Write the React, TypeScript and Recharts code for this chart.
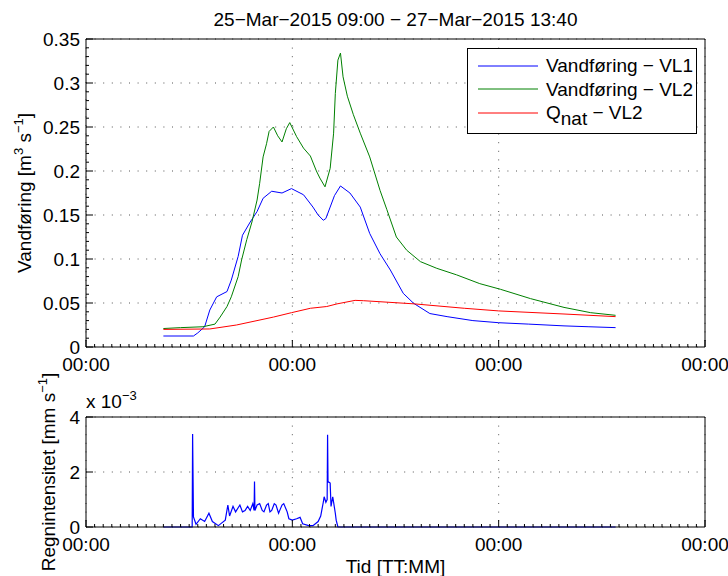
import React from 'react';
import { LineChart, Line, XAxis, YAxis, CartesianGrid, Legend, Label } from 'recharts';

const FONT = '"Liberation Sans", Arial, Helvetica, sans-serif';

// tid i timer fra 25-Mar-2015 00:00
const xTicks = [0, 24, 48, 72];
const xTickLabels = ['00:00', '00:00', '00:00', '00:00'];
const qTicks = [0, 0.05, 0.1, 0.15, 0.2, 0.25, 0.3, 0.35];
const rainTicks = [0, 2, 4];

const vl1Tid = [9.0, 12.5, 13.0, 13.8, 14.4, 15.2, 16.4, 16.9, 17.7, 18.2, 19.1, 19.9, 20.6, 21.6, 22.8, 23.9, 25.3, 26.4, 27.0, 27.6, 27.9, 28.4, 28.9, 29.6, 30.7, 31.9, 33.0, 34.2, 35.4, 36.9, 38.1, 40.0, 42.0, 45.0, 48.0, 51.5, 55.6, 58.5, 61.6];
const vl1Q = [0.0125, 0.0125, 0.016, 0.023, 0.042, 0.057, 0.063, 0.076, 0.103, 0.127, 0.142, 0.154, 0.169, 0.177, 0.175, 0.18, 0.173, 0.159, 0.15, 0.144, 0.146, 0.159, 0.172, 0.183, 0.175, 0.159, 0.129, 0.106, 0.0875, 0.061, 0.0497, 0.038, 0.0345, 0.03, 0.0276, 0.026, 0.024, 0.023, 0.022];

const vl2Tid = [9.0, 11.0, 13.6, 15.0, 15.6, 16.4, 16.9, 17.7, 18.1, 18.7, 19.3, 19.9, 20.2, 20.6, 21.0, 21.3, 21.8, 22.3, 22.8, 23.3, 23.7, 24.5, 25.3, 26.1, 26.8, 27.2, 27.8, 28.4, 28.8, 29.0, 29.3, 29.6, 29.9, 30.4, 31.1, 31.9, 33.0, 34.2, 35.0, 36.1, 37.3, 38.9, 40.8, 43.1, 45.8, 48.2, 51.7, 55.6, 58.7, 61.6];
const vl2Q = [0.021, 0.022, 0.023, 0.026, 0.034, 0.046, 0.057, 0.08, 0.099, 0.122, 0.142, 0.167, 0.186, 0.216, 0.231, 0.245, 0.25, 0.24, 0.233, 0.248, 0.255, 0.239, 0.226, 0.217, 0.2, 0.192, 0.182, 0.203, 0.243, 0.288, 0.326, 0.334, 0.307, 0.285, 0.264, 0.243, 0.216, 0.178, 0.156, 0.125, 0.11, 0.097, 0.0894, 0.082, 0.072, 0.0656, 0.055, 0.045, 0.039, 0.036];

const qnatTid = [9.0, 14.4, 17.5, 21.8, 23.9, 26.1, 28.0, 29.2, 31.3, 32.3, 38.2, 44.0, 48.0, 55.6, 61.6];
const qnatQ = [0.02, 0.0205, 0.025, 0.034, 0.039, 0.044, 0.046, 0.049, 0.053, 0.0526, 0.049, 0.044, 0.041, 0.0375, 0.0345];

// regnintensitet i 10^-3 mm/s
const regnTid = [9.0, 12.35, 12.4, 12.5, 12.8, 13.3, 13.8, 14.3, 14.7, 15.4, 15.8, 16.2, 16.5, 16.7, 17.1, 17.4, 17.7, 17.9, 18.2, 18.5, 18.8, 19.1, 19.4, 19.55, 19.6, 19.65, 19.9, 20.2, 20.5, 20.7, 21.0, 21.2, 21.4, 21.6, 21.9, 22.1, 22.4, 22.6, 22.8, 23.0, 23.4, 23.6, 24.0, 24.5, 24.9, 25.2, 25.9, 26.4, 27.0, 27.3, 27.6, 27.7, 27.9, 28.05, 28.1, 28.15, 28.4, 28.5, 28.7, 29.0, 29.1, 29.3, 61.6];
const regnI = [0, 0, 3.38, 0.37, 0.1, 0.3, 0.2, 0.5, 0.2, 0.05, 0.15, 0.25, 0.8, 0.4, 0.75, 0.55, 0.7, 0.8, 0.55, 0.6, 0.75, 0.6, 0.85, 0.6, 1.65, 0.6, 0.8, 0.85, 0.6, 0.55, 0.8, 0.85, 0.55, 0.6, 0.85, 0.8, 0.5, 0.65, 0.8, 0.85, 0.55, 0.3, 0.25, 0.3, 0.35, 0.12, 0.05, 0.05, 0.2, 0.4, 0.9, 1.1, 0.9, 1.0, 3.35, 1.65, 1.6, 0.75, 1.1, 0.5, 0.25, 0, 0];

const vl1Data = vl1Tid.map((t, i) => ({ t, q: vl1Q[i] }));
const vl2Data = vl2Tid.map((t, i) => ({ t, q: vl2Q[i] }));
const qnatData = qnatTid.map((t, i) => ({ t, q: qnatQ[i] }));
const regnData = regnTid.map((t, i) => ({ t, r: regnI[i] }));

// små tick-merker: hver time på x, hver 0.01 på y (øvre panel)
const hourTicks = Array.from({ length: 73 }, (_, i) => i);
const qMinorTicks = Array.from({ length: 36 }, (_, i) => i / 100);

const black = { stroke: '#000', strokeWidth: 1 };
const isIn = (v: number, list: number[]) => list.some((m) => Math.abs(m - v) < 1e-9);
const xLabel = (v: number) => xTickLabels[xTicks.findIndex((m) => Math.abs(m - v) < 1e-9)] ?? '';

// MATLAB-stil: tick-merker peker innover, store og små
const tickRenderer = (side: string, majors: number[], fmt: ((v: number) => string) | null) => (props: any) => {
  const { x, y, payload } = props;
  const v = payload.value;
  const major = isIn(v, majors);
  const len = major ? 7 : 3;
  let line;
  let label = null;
  if (side === 'bottom') {
    line = <line x1={x} x2={x} y1={y} y2={y - len} stroke="#000" />;
    if (major && fmt) label = <text x={x} y={y + 23.5} textAnchor="middle" fontFamily={FONT} fontSize={19} fill="#000">{fmt(v)}</text>;
  } else if (side === 'top') {
    line = <line x1={x} x2={x} y1={y} y2={y + len} stroke="#000" />;
  } else if (side === 'left') {
    line = <line x1={x} x2={x + len} y1={y} y2={y} stroke="#000" />;
    if (major && fmt) label = <text x={x - 6} y={y} dy="0.35em" textAnchor="end" fontFamily={FONT} fontSize={19} fill="#000">{fmt(v)}</text>;
  } else {
    line = <line x1={x} x2={x - len} y1={y} y2={y} stroke="#000" />;
  }
  return <g>{line}{label}</g>;
};

const legendItems = [
  { color: '#0000ff', label: <>Vandføring − VL1</> },
  { color: '#008000', label: <>Vandføring − VL2</> },
  { color: '#ff0000', label: <>Q<sub style={{ fontSize: 19, verticalAlign: '-6px', lineHeight: 0 }}>nat</sub> − VL2</> },
];

const renderLegend = () => (
  <div style={{ border: '1px solid #000', background: '#fff', boxSizing: 'border-box', width: 230, height: 86, paddingTop: 5, fontFamily: FONT, fontSize: 19, color: '#000' }}>
    {legendItems.map((it, i) => (
      <div key={i} style={{ display: 'flex', alignItems: 'center', height: 23.5, lineHeight: '23.5px', whiteSpace: 'nowrap' }}>
        <svg width={78} height={10} style={{ flex: 'none' }}>
          <line x1={10} x2={70} y1={5} y2={5} stroke={it.color} strokeWidth={1} />
        </svg>
        <span>{it.label}</span>
      </div>
    ))}
  </div>
);

const gridProps = { stroke: '#555', strokeDasharray: '1 7.6' };

export default function App() {
  return (
    <div style={{ position: 'absolute', left: 0, top: 0, width: 728, height: 576, background: '#fff' }}>
      <div style={{ position: 'absolute', left: 0, top: 0 }}>
        <LineChart width={728} height={380} margin={{ top: 38, right: 22, bottom: 3, left: 0 }}>
          <CartesianGrid {...gridProps} xAxisId="b" yAxisId="l" verticalValues={xTicks} horizontalValues={qTicks} />
          <XAxis xAxisId="b" dataKey="t" type="number" domain={[0, 72]} ticks={hourTicks} tick={tickRenderer('bottom', xTicks, xLabel)} tickLine={false} tickSize={0} tickMargin={0} axisLine={black} height={30} interval={0} />
          <XAxis xAxisId="t" type="number" domain={[0, 72]} orientation="top" ticks={hourTicks} tick={tickRenderer('top', xTicks, null)} tickLine={false} tickSize={0} tickMargin={0} axisLine={black} height={1} interval={0}>
            <Label
              content={({ viewBox }: any) => (
                <text x={viewBox.x + viewBox.width / 2} y={viewBox.y - 12} textAnchor="middle" fontFamily={FONT} fontSize={19} fill="#000">
                  25−Mar−2015 09:00 − 27−Mar−2015 13:40
                </text>
              )}
            />
          </XAxis>
          <YAxis yAxisId="l" type="number" domain={[0, 0.35]} ticks={qMinorTicks} tick={tickRenderer('left', qTicks, (v) => String(v))} tickLine={false} tickSize={0} tickMargin={0} axisLine={black} width={86} interval={0}>
            <Label
              content={({ viewBox }: any) => {
                const cx = 31;
                const cy = viewBox.y + viewBox.height / 2;
                return (
                  <text x={cx} y={cy} transform={`rotate(-90, ${cx}, ${cy})`} textAnchor="middle" fontFamily={FONT} fontSize={19} fill="#000">
                    Vandføring [m<tspan dy={-8} fontSize={13}>3</tspan><tspan dy={8}> s</tspan><tspan dy={-8} fontSize={13}>−1</tspan><tspan dy={8}>]</tspan>
                  </text>
                );
              }}
            />
          </YAxis>
          <YAxis yAxisId="r" type="number" domain={[0, 0.35]} orientation="right" ticks={qMinorTicks} tick={tickRenderer('right', qTicks, null)} tickLine={false} tickSize={0} tickMargin={0} axisLine={black} width={1} interval={0} />
          <Line xAxisId="b" yAxisId="l" data={vl1Data} dataKey="q" name="Vandføring - VL1" type="linear" stroke="#0000ff" strokeWidth={1} dot={false} isAnimationActive={false} />
          <Line xAxisId="b" yAxisId="l" data={vl2Data} dataKey="q" name="Vandføring - VL2" type="linear" stroke="#008000" strokeWidth={1} dot={false} isAnimationActive={false} />
          <Line xAxisId="b" yAxisId="l" data={qnatData} dataKey="q" name="Qnat - VL2" type="linear" stroke="#ff0000" strokeWidth={1} dot={false} isAnimationActive={false} />
          <Legend layout="vertical" align="center" verticalAlign="middle" content={renderLegend} wrapperStyle={{ left: 467, top: 48, width: 230 }} />
        </LineChart>
      </div>
      <div style={{ position: 'absolute', left: 0, top: 340 }}>
        <LineChart width={728} height={236} margin={{ top: 76, right: 22, bottom: 19, left: 0 }}>
          <CartesianGrid {...gridProps} xAxisId="b" yAxisId="l" verticalValues={xTicks} horizontalValues={rainTicks} />
          <XAxis xAxisId="b" dataKey="t" type="number" domain={[0, 72]} ticks={hourTicks} tick={tickRenderer('bottom', xTicks, xLabel)} tickLine={false} tickSize={0} tickMargin={0} axisLine={black} height={30} interval={0}>
            <Label
              content={({ viewBox }: any) => (
                <text x={viewBox.x + viewBox.width / 2} y={viewBox.y + 46} textAnchor="middle" fontFamily={FONT} fontSize={19} fill="#000">
                  Tid [TT:MM]
                </text>
              )}
            />
          </XAxis>
          <XAxis xAxisId="t" type="number" domain={[0, 72]} orientation="top" ticks={hourTicks} tick={tickRenderer('top', xTicks, null)} tickLine={false} tickSize={0} tickMargin={0} axisLine={black} height={1} interval={0} />
          <YAxis yAxisId="l" type="number" domain={[0, 4]} ticks={rainTicks} tick={tickRenderer('left', rainTicks, (v) => String(v))} tickLine={false} tickSize={0} tickMargin={0} axisLine={black} width={86} interval={0}>
            <Label
              content={({ viewBox }: any) => {
                const cx = 55;
                const cy = viewBox.y + viewBox.height / 2;
                return (
                  <g>
                    <text x={cx} y={cy} transform={`rotate(-90, ${cx}, ${cy})`} textAnchor="middle" fontFamily={FONT} fontSize={19} fill="#000">
                      Regnintensitet [mm s<tspan dy={-8} fontSize={13}>−1</tspan><tspan dy={8}>]</tspan>
                    </text>
                    <text x={viewBox.x + viewBox.width} y={viewBox.y - 9} fontFamily={FONT} fontSize={19} fill="#000">
                      x 10<tspan dy={-8} fontSize={13}>−3</tspan>
                    </text>
                  </g>
                );
              }}
            />
          </YAxis>
          <YAxis yAxisId="r" type="number" domain={[0, 4]} orientation="right" ticks={rainTicks} tick={tickRenderer('right', rainTicks, null)} tickLine={false} tickSize={0} tickMargin={0} axisLine={black} width={1} interval={0} />
          <Line xAxisId="b" yAxisId="l" data={regnData} dataKey="r" name="Regnintensitet" type="linear" stroke="#0000ff" strokeWidth={1.2} dot={false} isAnimationActive={false} />
        </LineChart>
      </div>
    </div>
  );
}
